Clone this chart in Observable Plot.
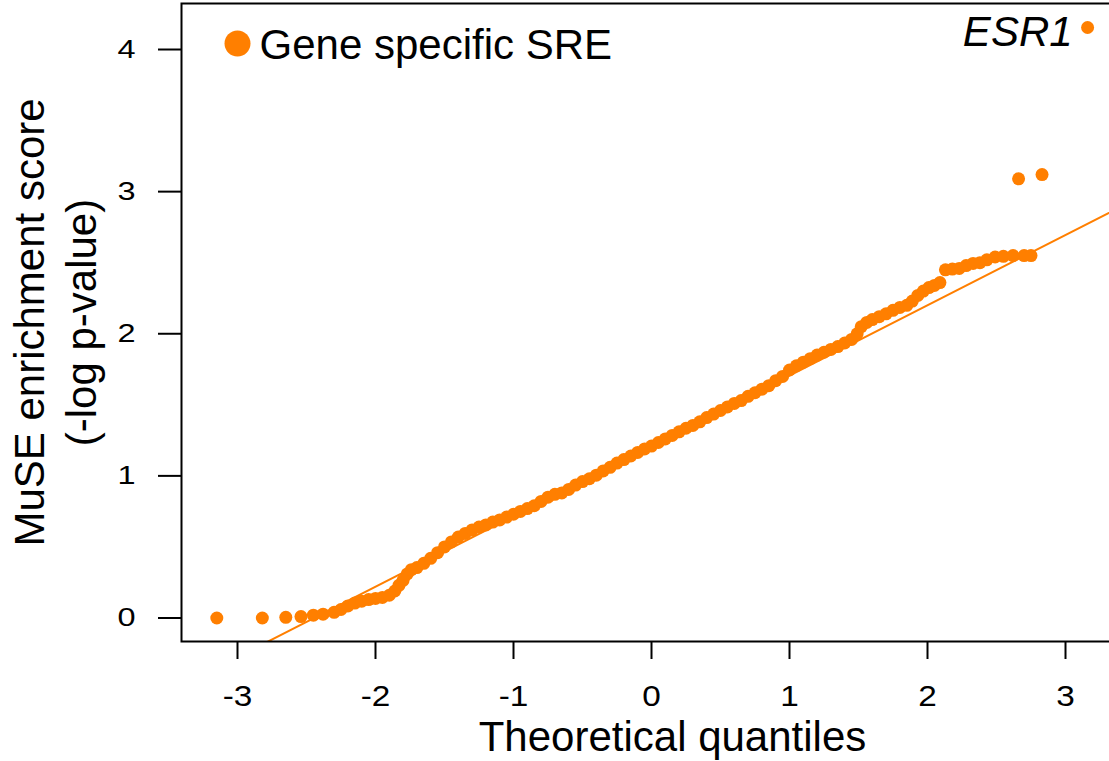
<!DOCTYPE html>
<html>
<head>
<meta charset="utf-8">
<script src="https://cdn.jsdelivr.net/npm/d3@7"></script>
<script src="https://cdn.jsdelivr.net/npm/@observablehq/plot@0.6"></script>
<style>
  html, body { margin: 0; padding: 0; background: #fff; overflow: hidden; }
  #chart { width: 1109px; height: 761px; overflow: hidden; }
</style>
</head>
<body>
<div id="chart"></div>
<script>
// Q-Q plot of MuSE enrichment scores for gene specific SREs
const seriesName = "Gene specific SRE";
const highlightGene = "ESR1";

// theoretical normal quantiles
const quantiles = [
  -3.15, -2.82, -2.65, -2.54, -2.45, -2.38, -2.30, -2.25,
  -2.20, -2.15, -2.10, -2.05, -2.00, -1.95, -1.90, -1.86, -1.83, -1.80,
  -1.77, -1.74, -1.70, -1.65, -1.60, -1.55, -1.50, -1.45, -1.40, -1.35,
  -1.30, -1.25, -1.20, -1.15, -1.10, -1.05, -1.00, -0.95, -0.90, -0.85,
  -0.80, -0.75, -0.70, -0.65, -0.60, -0.55, -0.50, -0.45, -0.40, -0.35,
  -0.30, -0.25, -0.20, -0.15, -0.10, -0.05, 0.00, 0.05, 0.10, 0.15,
  0.20, 0.25, 0.30, 0.35, 0.40, 0.45, 0.50, 0.55, 0.60, 0.65,
  0.70, 0.75, 0.80, 0.85, 0.90, 0.95, 1.00, 1.05, 1.10, 1.15,
  1.20, 1.25, 1.30, 1.35, 1.40, 1.45, 1.49, 1.52, 1.56, 1.60,
  1.65, 1.70, 1.75, 1.80, 1.85, 1.89, 1.93, 1.97, 2.01, 2.05,
  2.09, 2.13, 2.18, 2.23, 2.28, 2.33, 2.38, 2.43, 2.49, 2.55,
  2.62, 2.70, 2.75, 2.66, 2.83, 3.16
];

// sample scores, -log p-value, same order as quantiles
const scores = [
  0.00, 0.00, 0.005, 0.01, 0.02, 0.027, 0.04, 0.06,
  0.085, 0.105, 0.118, 0.130, 0.138, 0.145, 0.160, 0.190, 0.230, 0.265,
  0.310, 0.340, 0.355, 0.385, 0.420, 0.460, 0.500, 0.535, 0.570, 0.595,
  0.620, 0.640, 0.655, 0.675, 0.690, 0.710, 0.730, 0.750, 0.770, 0.790,
  0.820, 0.850, 0.870, 0.880, 0.905, 0.935, 0.960, 0.980, 1.005, 1.035,
  1.060, 1.090, 1.115, 1.140, 1.165, 1.190, 1.210, 1.235, 1.260, 1.285,
  1.310, 1.335, 1.355, 1.380, 1.410, 1.435, 1.460, 1.485, 1.510, 1.530,
  1.560, 1.585, 1.610, 1.635, 1.670, 1.700, 1.745, 1.775, 1.800, 1.825,
  1.850, 1.870, 1.890, 1.910, 1.935, 1.960, 2.000, 2.050, 2.080, 2.100,
  2.120, 2.140, 2.165, 2.185, 2.200, 2.230, 2.270, 2.300, 2.325, 2.340,
  2.360, 2.450, 2.455, 2.460, 2.480, 2.495, 2.500, 2.520, 2.540, 2.545,
  2.550, 2.550, 2.550, 3.090, 3.120, 4.155
];

// reference line through the quartiles (qqline)
const lineIntercept = 1.21;
const lineSlope = 0.495;

const xTicks = [-3, -2, -1, 0, 1, 2, 3];
const yTicks = [0, 1, 2, 3, 4];

const orange = "#FF7F00";
const font = "'Liberation Sans', Arial, Helvetica, sans-serif";

const points = quantiles.map((q, i) => ({q, s: scores[i]}));
const labelled = points.filter(d => d.s === d3.max(scores)).map(d => ({...d, name: highlightGene}));

const xDomain = [-3.4058, 3.7101];
const yDomain = [-0.1653, 4.3237];
const lineEnds = xDomain.map(q => ({q, s: lineIntercept + lineSlope * q}));

const chart = Plot.plot({
  width: 1163,
  height: 761,
  marginLeft: 181,
  marginRight: 0,
  marginTop: 3,
  marginBottom: 120,
  style: {fontFamily: font, fontSize: "28px", color: "#000", background: "#fff", maxWidth: "none", overflow: "hidden"},
  x: {domain: xDomain},
  y: {domain: yDomain},
  marks: [
    Plot.line(lineEnds, {x: "q", y: "s", stroke: orange, strokeWidth: 2, clip: true}),
    Plot.dot(points, {x: "q", y: "s", r: 6.5, fill: orange, stroke: null}),
    Plot.text(labelled, {x: "q", y: "s", text: "name", textAnchor: "end", lineAnchor: "middle",
      dx: -15, dy: 4.6, fontSize: 42, fontStyle: "italic", fill: "#000"}),
    Plot.frame({stroke: "#000", strokeWidth: 2}),
    Plot.axisX({ticks: xTicks, tickSize: 18, tickPadding: 26, tickFormat: d => String(d),
      fontSize: 29, strokeWidth: 2, label: null}),
    Plot.axisY({ticks: yTicks, tickSize: 23, tickPadding: 23, tickFormat: d => String(d),
      fontSize: 25, strokeWidth: 2, label: null}),
    // axis titles
    Plot.text(["Theoretical quantiles"], {frameAnchor: "bottom", lineAnchor: "middle",
      dy: 96.5, fontSize: 42, fill: "#000"}),
    Plot.text(["MuSE enrichment score\n(-log p-value)"], {frameAnchor: "left", rotate: -90,
      textAnchor: "middle", lineAnchor: "middle", lineHeight: 1.22, dx: -128, fontSize: 42, fill: "#000"}),
    // legend
    Plot.dot([seriesName], {frameAnchor: "top-left", dx: 56, dy: 40, r: 13, fill: orange, stroke: null}),
    Plot.text([seriesName], {frameAnchor: "top-left", dx: 78, dy: 41.6, textAnchor: "start",
      lineAnchor: "middle", fontSize: 42, fill: "#000"})
  ]
});

// tick labels are set in a horizontally widened face at a fixed size
function widen(selector, size, sx) {
  d3.select(chart).selectAll(selector).each(function() {
    this.setAttribute("font-size", size);
    this.style.fontSize = `${size}px`;
  });
  d3.select(chart).selectAll(`${selector} text`).each(function() {
    this.setAttribute("font-size", size);
    this.style.fontSize = `${size}px`;
    const t = this.getAttribute("transform") || "";
    this.setAttribute("transform", `${t} scale(${sx},1)`);
  });
}
widen("[aria-label='x-axis tick label']", 29, 1.15);
widen("[aria-label='y-axis tick label']", 25, 1.3);

document.getElementById("chart").appendChild(chart);
</script>
</body>
</html>
